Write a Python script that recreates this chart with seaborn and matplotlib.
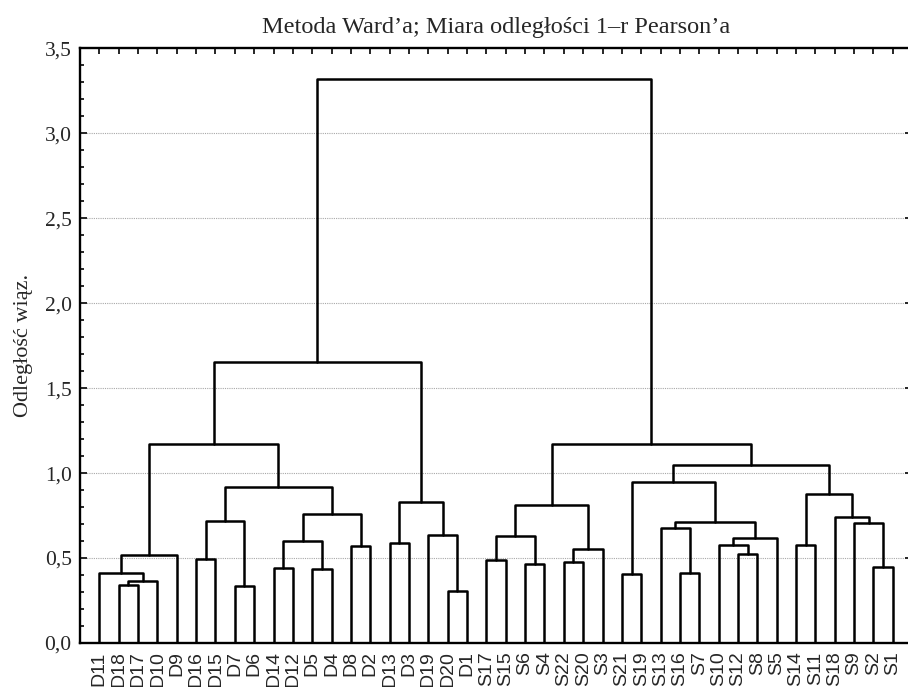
import matplotlib
matplotlib.use("Agg")
import matplotlib.pyplot as plt
from matplotlib.ticker import MultipleLocator, FuncFormatter, FixedLocator
import numpy as np
import pandas as pd
import seaborn as sns

# Leaf order along the horizontal axis
leaves = ["D11", "D18", "D17", "D10", "D9", "D16", "D15", "D7", "D6", "D14",
          "D12", "D5", "D4", "D8", "D2", "D13", "D3", "D19", "D20", "D1",
          "S17", "S15", "S6", "S4", "S22", "S20", "S3", "S21", "S19", "S13",
          "S16", "S7", "S10", "S12", "S8", "S5", "S14", "S11", "S18", "S9",
          "S2", "S1"]

# Agglomeration steps: children (leaf name or "#k" = result of step k) and linkage distance
merge_left = ["D18", "#0", "D11", "#2", "D16", "D7", "#4", "D14", "D5", "#7",
              "D8", "#9", "#6", "#3", "D13", "D20", "D19", "#14", "#13",
              "S17", "S6", "#19", "S22", "#22", "#21", "S21", "S16", "S13",
              "S12", "S10", "#29", "#27", "#25", "S14", "S2", "S9", "S18",
              "#33", "#32", "#24", "#18"]
merge_right = ["D17", "D10", "#1", "D9", "D15", "D6", "#5", "D12", "D4", "#8",
               "D2", "#10", "#11", "#12", "D3", "D1", "#15", "#16", "#17",
               "S15", "S4", "#20", "S20", "S3", "#23", "S19", "S7", "#26",
               "S8", "#28", "S5", "#30", "#31", "S11", "S1", "#34", "#35",
               "#36", "#37", "#38", "#39"]
merge_height = [0.341, 0.366, 0.414, 0.520, 0.496, 0.337, 0.720, 0.441, 0.433, 0.600,
                0.571, 0.757, 0.916, 1.169, 0.586, 0.308, 0.637, 0.827, 1.653,
                0.486, 0.465, 0.631, 0.478, 0.555, 0.812, 0.406, 0.414, 0.675,
                0.525, 0.578, 0.616, 0.712, 0.949, 0.578, 0.449, 0.705, 0.743,
                0.878, 1.045, 1.169, 3.320]

title = "Metoda Ward\u2019a; Miara odległości 1\u2013r Pearson\u2019a"
ylabel = "Odległość wiąz."

# Node positions: leaves sit at integer positions starting at height 0,
# each cluster sits midway between its two children
pos = {name: (i + 1.0, 0.0) for i, name in enumerate(leaves)}
rows = []
for k, (a, b, h) in enumerate(zip(merge_left, merge_right, merge_height)):
    xa, ya = pos[a]
    xb, yb = pos[b]
    for x, y in [(xa, ya), (xa, h), (xb, h), (xb, yb)]:
        rows.append({"link": k, "x": x, "y": y})
    pos[f"#{k}"] = ((xa + xb) / 2.0, h)
segments = pd.DataFrame(rows)

sns.set_style("white")
plt.rcParams["font.family"] = ["Liberation Serif", "DejaVu Serif"]

fig = plt.figure(figsize=(9.08, 6.87), dpi=100)
# the frame runs slightly past the right edge of the canvas
ax = fig.add_axes([0.0881, 0.064, 0.9165, 0.866])

sns.lineplot(data=segments, x="x", y="y", units="link", estimator=None,
             sort=False, color="black", linewidth=1.8, ax=ax, legend=False)

ax.set_xlim(0, len(leaves) + 1)
ax.set_ylim(0, 3.5)

# Dotted reference lines at each labelled level
for g in np.arange(0.5, 3.01, 0.5):
    ax.axhline(g, color="#a8a8a8", linestyle=(0, (1, 1)), linewidth=0.8, zorder=0)

ax.yaxis.set_major_locator(MultipleLocator(0.5))
ax.yaxis.set_minor_locator(MultipleLocator(0.1))
ax.yaxis.set_major_formatter(FuncFormatter(lambda v, p: f"{v:.1f}".replace(".", ",")))
ax.xaxis.set_major_locator(FixedLocator(np.arange(1, len(leaves) + 1)))
ax.set_xticklabels(leaves, rotation=90, family=["Liberation Sans", "DejaVu Sans"],
                   fontsize=14)
ax.tick_params(axis="y", which="both", direction="in", left=True, right=True,
               labelsize=15.5, width=1.4, pad=6)
ax.tick_params(axis="y", which="major", length=5)
ax.tick_params(axis="y", which="minor", length=3)
ax.tick_params(axis="x", which="major", direction="in", top=True, bottom=False,
               length=4, width=1.4, pad=6)

for s in ax.spines.values():
    s.set_visible(True)
    s.set_color("black")
    s.set_linewidth(1.7)

ax.set_xlabel("")
ax.set_ylabel(ylabel, fontsize=16, labelpad=8)
ax.set_title(title, fontsize=17.5, pad=11)

fig.savefig("out.png", dpi=100)
